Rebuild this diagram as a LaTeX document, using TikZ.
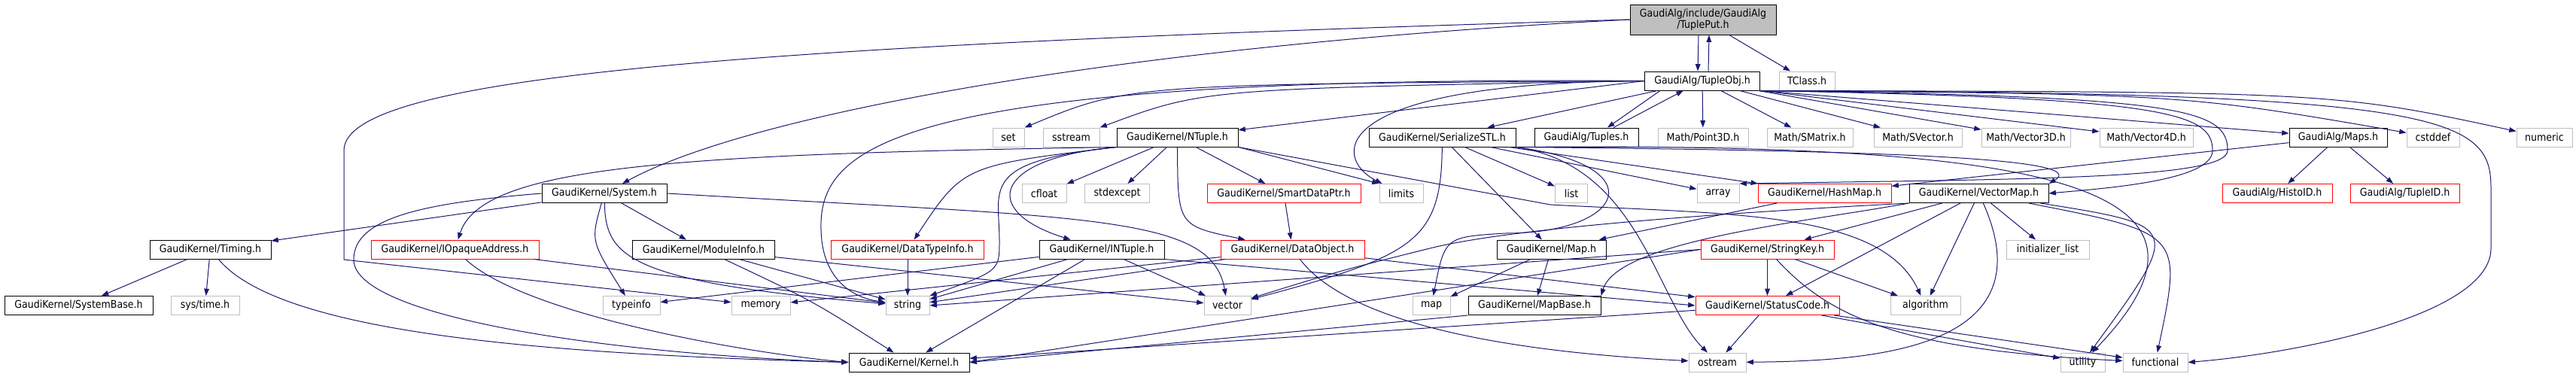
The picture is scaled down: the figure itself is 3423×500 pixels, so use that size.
\documentclass[tikz,border=0pt]{standalone}
\usepackage{fontspec}
\setmainfont{DejaVu Sans Condensed}
\usepackage{tikz}
\usetikzlibrary{arrows.meta}
\definecolor{edgeblue}{HTML}{191970}
\definecolor{grey75}{HTML}{BFBFBF}
\tikzset{
	hdr/.style = {rectangle, align=center, inner sep=1pt, fill=white,
		font=\fontsize{10.5}{11.5}\selectfont, minimum height=18.75pt, line width=0.75pt},
	hdr_k/.style = {hdr, draw=black},% en-tete documente
	hdr_r/.style = {hdr, draw=red},% en-tete, graphe tronque
	hdr_g/.style = {hdr, draw=grey75},% en-tete systeme
	hdr_top/.style = {hdr, draw=black, fill=grey75, minimum height=30pt},% fichier courant
	wd/.style = {minimum width={#1*0.75pt}},
	dep/.style = {draw=edgeblue, line width=0.75pt}
}

\begin{document}
\begin{tikzpicture}[->,>={Triangle[length=7pt,width=5pt]},x=0.75pt,y=-0.75pt]
\useasboundingbox (0,0) rectangle (3423,500);

\node[hdr_top, wd=194] (put) at (2263,26) {GaudiAlg/include/GaudiAlg\\/TuplePut.h};
\node[hdr_k, wd=153] (tobj) at (2262,107.5) {GaudiAlg/TupleObj.h};
\node[hdr_g, wd=74] (tclass) at (2401,107.5) {TClass.h};

\node[hdr_g, wd=42] (set) at (1340,182.5) {set};
\node[hdr_g, wd=75] (sstr) at (1423.5,182.5) {sstream};
\node[hdr_k, wd=161] (ntup) at (1564.5,182.5) {GaudiKernel/NTuple.h};
\node[hdr_k, wd=195] (ser) at (1916.5,182.5) {GaudiKernel/SerializeSTL.h};
\node[hdr_k, wd=138] (tup) at (2108,182.5) {GaudiAlg/Tuples.h};
\node[hdr_g, wd=120] (p3d) at (2263,182.5) {Math/Point3D.h};
\node[hdr_g, wd=114] (smat) at (2405,182.5) {Math/SMatrix.h};
\node[hdr_g, wd=117] (svec) at (2548.5,182.5) {Math/SVector.h};
\node[hdr_g, wd=118] (v3d) at (2692,182.5) {Math/Vector3D.h};
\node[hdr_g, wd=124] (v4d) at (2852,182.5) {Math/Vector4D.h};
\node[hdr_k, wd=130] (maps) at (3107,182.5) {GaudiAlg/Maps.h};
\node[hdr_g, wd=70] (cstd) at (3233,182.5) {cstddef};
\node[hdr_g, wd=74] (num) at (3381,182.5) {numeric};

\node[hdr_k, wd=166] (sys) at (803,257) {GaudiKernel/System.h};
\node[hdr_g, wd=59] (cflt) at (1387.5,257) {cfloat};
\node[hdr_g, wd=86] (stdx) at (1484.5,257) {stdexcept};
\node[hdr_r, wd=204] (sdp) at (1706,257) {GaudiKernel/SmartDataPtr.h};
\node[hdr_g, wd=58] (lim) at (1862,257) {limits};
\node[hdr_g, wd=43] (list) at (2088,257) {list};
\node[hdr_g, wd=56] (arr) at (2283,257) {array};
\node[hdr_r, wd=177] (hmap) at (2424.5,257) {GaudiKernel/HashMap.h};
\node[hdr_k, wd=185] (vmap) at (2629.5,257) {GaudiKernel/VectorMap.h};
\node[hdr_r, wd=146] (hid) at (3026,257) {GaudiAlg/HistoID.h};
\node[hdr_r, wd=145] (tid) at (3195.5,257) {GaudiAlg/TupleID.h};

\node[hdr_k, wd=161] (tim) at (279.5,331.5) {GaudiKernel/Timing.h};
\node[hdr_r, wd=223] (iop) at (604.5,331.5) {GaudiKernel/IOpaqueAddress.h};
\node[hdr_k, wd=189] (mod) at (935,331.5) {GaudiKernel/ModuleInfo.h};
\node[hdr_r, wd=203] (dti) at (1206,331.5) {GaudiKernel/DataTypeInfo.h};
\node[hdr_k, wd=166] (intup) at (1464,331.5) {GaudiKernel/INTuple.h};
\node[hdr_r, wd=191] (dobj) at (1717.5,331.5) {GaudiKernel/DataObject.h};
\node[hdr_k, wd=145] (maph) at (2061.5,331.5) {GaudiKernel/Map.h};
\node[hdr_r, wd=177] (skey) at (2348.5,331.5) {GaudiKernel/StringKey.h};
\node[hdr_g, wd=110] (ilist) at (2721,331.5) {initializer\_list};

\node[hdr_k, wd=197] (sbase) at (104.5,406) {GaudiKernel/SystemBase.h};
\node[hdr_g, wd=91] (stime) at (272.5,406) {sys/time.h};
\node[hdr_g, wd=76] (tinfo) at (839,406) {typeinfo};
\node[hdr_g, wd=78] (mem) at (1011,406) {memory};
\node[hdr_g, wd=58] (str) at (1206,406) {string};
\node[hdr_g, wd=62] (vec) at (1631,406) {vector};
\node[hdr_g, wd=50] (map) at (1902,406) {map};
\node[hdr_k, wd=176] (mbase) at (2039,406) {GaudiKernel/MapBase.h};
\node[hdr_r, wd=191] (stc) at (2348.5,406) {GaudiKernel/StatusCode.h};
\node[hdr_g, wd=93] (alg) at (2558.5,406) {algorithm};

\node[hdr_k, wd=160] (kern) at (1208,481.5) {GaudiKernel/Kernel.h};
\node[hdr_g, wd=76] (ost) at (2282,481.5) {ostream};
\node[hdr_g, wd=59] (util) at (2767.5,481.5) {utility};
\node[hdr_g, wd=86] (fun) at (2864,481.5) {functional};

\draw[dep] ([xshift=-4.5pt]put.south) -- ([xshift=-4.5pt]tobj.north);
\draw[dep] ([xshift=6pt]tobj.north) -- ([xshift=6pt]put.south);
\draw[dep] (put) -- (tclass);
\draw[dep] (put.west) .. controls (1500,60) and (1000,150) .. (sys);
\draw[dep] (put.west) .. controls (1000,60) and (457,100) .. (457,200) -- (457,345) -- (mem);

\draw[dep] (tobj.west) .. controls (1500,112) .. (set.north east);
\draw[dep] (tobj.west) .. controls (1600,118) .. (sstr.north east);
\draw[dep] (tobj.west) -- (ntup);
\draw[dep] (tobj) -- (ser);
\draw[dep] ([xshift=-42pt]tobj.south) -- ([xshift=21pt]tup.north);
\draw[dep] ([xshift=27pt]tup.north) -- ([xshift=-19pt]tobj.south);
\draw[dep] (tobj) -- (p3d);
\draw[dep] (tobj) -- (smat);
\draw[dep] (tobj) -- (svec);
\draw[dep] (tobj) -- (v3d);
\draw[dep] (tobj.south east) -- (v4d);
\draw[dep] (tobj.south east) -- (maps);
\draw[dep] (tobj.south east) .. controls (2900,125) .. (cstd);
\draw[dep] (tobj.south east) .. controls (3100,122) .. (num);
\draw[dep] (tobj.west) .. controls (1760,110) and (1770,210) .. (lim);
\draw[dep] (tobj.west) .. controls (1150,100) and (1080,200) .. (1092,320) .. controls (1098,370) and (1130,395) .. (str);
\draw[dep] (tobj.south east) .. controls (2900,128) and (2960,145) .. (2960,200) .. controls (2960,238) and (2700,238) .. (arr.north east);
\draw[dep] (tobj.south east) .. controls (2880,130) and (2940,150) .. (2940,200) .. controls (2940,240) and (2800,250) .. (vmap.east);
\draw[dep] (tobj.south east) .. controls (3250,122) and (3310,155) .. (3310,250) -- (3310,330) .. controls (3310,420) and (3050,470) .. (fun.east);

\draw[dep] (ntup) -- (cflt);
\draw[dep] (ntup) -- (stdx);
\draw[dep] (ntup) -- (sdp);
\draw[dep] (ntup.south east) -- (lim.north west);
\draw[dep] (ntup) .. controls (1565,300) .. (dobj);
\draw[dep] (ntup.south west) .. controls (1320,210) and (1300,280) .. (intup);
\draw[dep] (ntup.south west) .. controls (1280,220) .. (dti);
\draw[dep] (ntup.south west) .. controls (900,205) and (640,220) .. (iop);
\draw[dep] (ntup.south west) .. controls (1300,215) and (1328,250) .. (1328,320) .. controls (1328,360) .. (str.north east);
\draw[dep] (ntup.south east) -- (2060,272) .. controls (2300,285) and (2500,280) .. (alg);

\draw[dep] (ser) -- (list);
\draw[dep] (ser) -- (arr);
\draw[dep] (ser) -- (hmap);
\draw[dep] (ser) -- (maph);
\draw[dep] (ser) .. controls (1915,320) and (1880,340) .. (vec);
\draw[dep] (ser.south east) .. controls (2200,220) and (2160,310) .. (2000,310) .. controls (1920,315) .. (map);
\draw[dep] (ser.south east) .. controls (2180,220) and (2200,400) .. (ost);
\draw[dep] (ser.south east) .. controls (2500,200) and (2780,210) .. (vmap.north east);
\draw[dep] (ser.south east) .. controls (2700,190) and (3000,240) .. (util);

\draw[dep] (maps) -- (hmap);
\draw[dep] (maps) -- (hid);
\draw[dep] (maps) -- (tid);

\draw[dep] (sys) -- (tim);
\draw[dep] (sys) -- (mod);
\draw[dep] (sys) .. controls (785,320) .. (tinfo);
\draw[dep] (sys) .. controls (805,340) and (830,375) .. (str);
\draw[dep] (sys.east) .. controls (1450,290) and (1610,285) .. (vec);
\draw[dep] (sys.west) .. controls (560,270) and (470,290) .. (470,345) .. controls (470,420) and (800,470) .. (kern.west);

\draw[dep] (tim) -- (sbase);
\draw[dep] (tim) -- (stime);
\draw[dep] (tim) .. controls (370,440) and (700,470) .. (kern.west);

\draw[dep] (iop) .. controls (700,420) and (1000,470) .. (kern.west);
\draw[dep] (iop) -- (str);

\draw[dep] (mod) .. controls (1080,400) .. (kern);
\draw[dep] (mod) -- (str);
\draw[dep] (mod) -- (vec);

\draw[dep] (dti) -- (str);

\draw[dep] (intup) -- (tinfo);
\draw[dep] (intup) -- (str);
\draw[dep] (intup) -- (vec);
\draw[dep] (intup) -- (kern);
\draw[dep] (intup.south east) -- (stc.west);

\draw[dep] (sdp) -- (dobj);

\draw[dep] (dobj) -- (mem);
\draw[dep] (dobj) -- (str);
\draw[dep] (dobj) -- (stc);
\draw[dep] (dobj) .. controls (1800,440) and (2050,470) .. (ost);

\draw[dep] (hmap) -- (maph);

\draw[dep] (vmap) -- (skey);
\draw[dep] (vmap) -- (stc);
\draw[dep] (vmap) -- (alg);
\draw[dep] (vmap) -- (ilist);
\draw[dep] (vmap.south west) .. controls (2400,295) and (2150,320) .. (mbase.north east);
\draw[dep] (vmap.south west) .. controls (2250,285) and (2000,305) .. (1900,330) .. controls (1780,360) .. (vec);
\draw[dep] (vmap) .. controls (2720,460) and (2500,480) .. (ost);
\draw[dep] (vmap) .. controls (2900,300) .. (util);
\draw[dep] (vmap) .. controls (2900,310) .. (fun);

\draw[dep] (maph) -- (map);
\draw[dep] (maph) -- (mbase);

\draw[dep] (skey) -- (stc);
\draw[dep] (skey) -- (alg);
\draw[dep] (skey) .. controls (2430,420) and (2520,465) .. (fun);
\draw[dep] (skey.west) -- (str.east);
\draw[dep] (skey.west) -- (kern.east);

\draw[dep] (mbase.south west) -- (kern.east);

\draw[dep] (stc) -- (kern);
\draw[dep] (stc) -- (ost);
\draw[dep] (stc) -- (util);
\draw[dep] (stc) -- (fun);
\end{tikzpicture}
\end{document}
